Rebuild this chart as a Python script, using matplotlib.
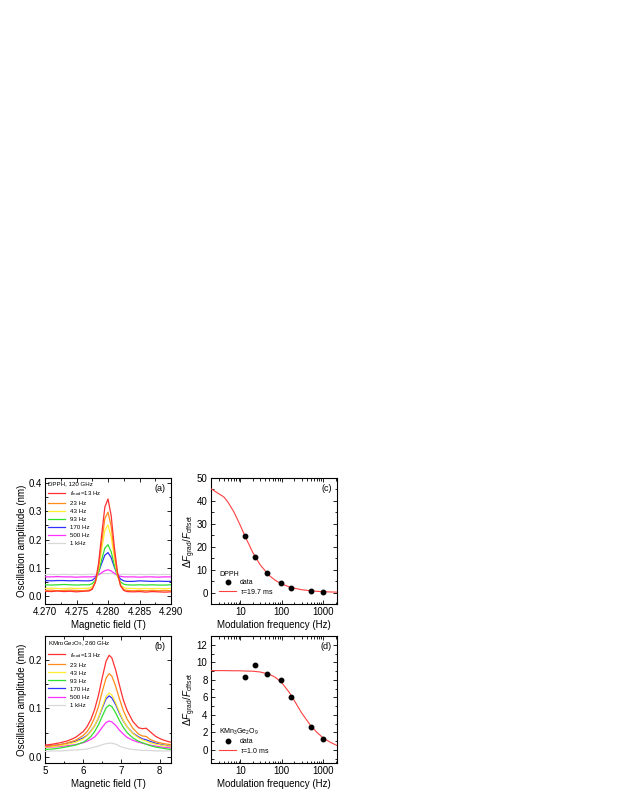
import matplotlib
matplotlib.use("Agg")
import matplotlib.pyplot as plt
from matplotlib.ticker import MultipleLocator, LogLocator, NullFormatter, FixedLocator

plt.rcParams['font.family'] = ['Liberation Sans', 'DejaVu Sans']
plt.rcParams['mathtext.fontset'] = 'custom'
plt.rcParams['mathtext.rm'] = 'Liberation Sans'
plt.rcParams['mathtext.it'] = 'Liberation Sans:italic'
plt.rcParams['axes.linewidth'] = 0.8

# ---------------- data ----------------
labels = [r'$f_{\rm mod}$=13 Hz', '23 Hz', '43 Hz', '93 Hz', '170 Hz', '500 Hz', '1 kHz']
colors = ['#ff3030', '#ff8c1a', '#ffee30', '#30e030', '#3030ff', '#ff30ff', '#d8d8d8']

# panel (a): DPPH, 120 GHz
field_a = [4.2700, 4.2710, 4.2720, 4.2730, 4.2740, 4.2750, 4.2760,
           4.2770, 4.2775, 4.2780, 4.2785, 4.2790, 4.2795, 4.2800, 4.2805,
           4.2810, 4.2815, 4.2820, 4.2825, 4.2830,
           4.2840, 4.2850, 4.2860, 4.2870, 4.2880, 4.2890, 4.2900]
amp_a_13 = [0.017, 0.016, 0.018, 0.016, 0.017, 0.015, 0.017,
            0.018, 0.024, 0.050, 0.115, 0.218, 0.315, 0.344, 0.285,
            0.175, 0.085, 0.036, 0.020, 0.016,
            0.015, 0.016, 0.014, 0.016, 0.015, 0.014, 0.015]
amp_a_23 = [0.020, 0.021, 0.019, 0.020, 0.021, 0.020, 0.019,
            0.021, 0.027, 0.049, 0.103, 0.191, 0.274, 0.297, 0.247,
            0.155, 0.078, 0.037, 0.023, 0.020,
            0.019, 0.020, 0.019, 0.020, 0.019, 0.020, 0.019]
amp_a_43 = [0.027, 0.028, 0.027, 0.026, 0.028, 0.027, 0.027,
            0.028, 0.033, 0.051, 0.095, 0.166, 0.233, 0.252, 0.211,
            0.136, 0.073, 0.041, 0.030, 0.027,
            0.027, 0.026, 0.027, 0.026, 0.027, 0.026, 0.027]
amp_a_93 = [0.040, 0.039, 0.040, 0.041, 0.040, 0.039, 0.040,
            0.040, 0.044, 0.056, 0.084, 0.129, 0.170, 0.182, 0.157,
            0.110, 0.070, 0.050, 0.042, 0.040,
            0.039, 0.040, 0.039, 0.040, 0.039, 0.039, 0.040]
amp_a_170 = [0.055, 0.054, 0.055, 0.055, 0.054, 0.055, 0.054,
             0.054, 0.056, 0.065, 0.085, 0.116, 0.145, 0.154, 0.136,
             0.103, 0.076, 0.060, 0.054, 0.052,
             0.052, 0.054, 0.053, 0.052, 0.053, 0.052, 0.052]
amp_a_500 = [0.068, 0.068, 0.069, 0.068, 0.068, 0.067, 0.068,
             0.068, 0.068, 0.070, 0.075, 0.083, 0.090, 0.093, 0.089,
             0.081, 0.074, 0.070, 0.068, 0.068,
             0.068, 0.067, 0.068, 0.068, 0.067, 0.068, 0.068]
amp_a_1k = [0.076, 0.077, 0.076, 0.077, 0.076, 0.077, 0.076,
            0.077, 0.077, 0.077, 0.078, 0.079, 0.080, 0.080, 0.080,
            0.079, 0.078, 0.077, 0.077, 0.077,
            0.076, 0.077, 0.076, 0.077, 0.076, 0.077, 0.076]

# panel (b): KMn3Ge2O9, 260 GHz
field_b = [5.0, 5.2, 5.4, 5.6, 5.8, 6.0, 6.1, 6.2, 6.3, 6.4, 6.5, 6.6, 6.68,
           6.75, 6.85, 6.95, 7.05, 7.15, 7.3, 7.45, 7.55, 7.65, 7.75, 7.9,
           8.05, 8.2, 8.3]
amp_b_13 = [0.024, 0.026, 0.029, 0.033, 0.040, 0.052, 0.062, 0.077, 0.098, 0.127,
            0.164, 0.198, 0.210, 0.205, 0.180, 0.148, 0.118, 0.096, 0.073, 0.060,
            0.058, 0.059, 0.052, 0.042, 0.036, 0.032, 0.030]
amp_b_23 = [0.021, 0.023, 0.025, 0.029, 0.034, 0.044, 0.052, 0.064, 0.081, 0.104,
            0.135, 0.163, 0.172, 0.167, 0.146, 0.120, 0.096, 0.078, 0.059, 0.047,
            0.043, 0.042, 0.036, 0.031, 0.028, 0.026, 0.025]
amp_b_43 = [0.020, 0.021, 0.023, 0.026, 0.030, 0.037, 0.043, 0.052, 0.064, 0.081,
            0.104, 0.125, 0.132, 0.128, 0.112, 0.093, 0.075, 0.062, 0.048, 0.039,
            0.035, 0.032, 0.029, 0.026, 0.024, 0.022, 0.022]
amp_b_93 = [0.015, 0.016, 0.018, 0.021, 0.024, 0.030, 0.035, 0.042, 0.052, 0.066,
            0.084, 0.101, 0.107, 0.104, 0.091, 0.075, 0.061, 0.050, 0.039, 0.032,
            0.029, 0.026, 0.023, 0.020, 0.018, 0.016, 0.015]
amp_b_170 = [0.022, 0.023, 0.025, 0.028, 0.032, 0.039, 0.044, 0.053, 0.064, 0.080,
             0.101, 0.120, 0.126, 0.122, 0.108, 0.090, 0.074, 0.062, 0.049, 0.041,
             0.037, 0.035, 0.032, 0.028, 0.025, 0.023, 0.022]
amp_b_500 = [0.019, 0.020, 0.021, 0.023, 0.025, 0.029, 0.032, 0.036, 0.041, 0.050,
             0.061, 0.071, 0.074, 0.072, 0.065, 0.055, 0.047, 0.040, 0.034, 0.030,
             0.028, 0.026, 0.024, 0.022, 0.020, 0.019, 0.018]
amp_b_1k = [0.011, 0.012, 0.012, 0.013, 0.014, 0.015, 0.016, 0.018, 0.020, 0.022,
            0.025, 0.027, 0.028, 0.028, 0.026, 0.022, 0.019, 0.017, 0.015, 0.014,
            0.013, 0.013, 0.013, 0.012, 0.012, 0.012, 0.012]

# panels (c), (d): modulation frequency dependence
mod_freq = [13, 23, 43, 93, 170, 500, 1000]
ratio_c = [24.5, 15.5, 8.7, 4.2, 2.1, 0.6, 0.3]
ratio_d = [8.3, 9.65, 8.7, 8.0, 6.0, 2.6, 1.2]
fit_freq = [2, 4, 5, 7, 10, 13, 20, 30, 50, 70, 100, 150, 200, 300, 500,
            700, 1000, 1500, 2200]
fit_c = [45.2, 41.7, 39.5, 35.1, 29.2, 24.5, 17.4, 12.1, 7.4, 5.3, 3.75,
         2.5, 1.88, 1.25, 0.75, 0.54, 0.375, 0.25, 0.17]
fit_d = [9.05, 9.05, 9.04, 9.03, 9.03, 9.0, 8.98, 8.89, 8.63, 8.28, 7.66,
         6.59, 5.63, 4.23, 2.75, 2.01, 1.35, 0.85, 0.48]

amps_a = [amp_a_13, amp_a_23, amp_a_43, amp_a_93, amp_a_170, amp_a_500, amp_a_1k]
amps_b = [amp_b_13, amp_b_23, amp_b_43, amp_b_93, amp_b_170, amp_b_500, amp_b_1k]

# ---------------- figure ----------------
W, H = 623, 806
fig = plt.figure(figsize=(W / 100, H / 100), dpi=100)


def px_axes(left, top, right, bottom):
    return fig.add_axes([left / W, 1 - bottom / H, (right - left) / W, (bottom - top) / H])


ax_a = px_axes(45, 478, 171, 604)
ax_c = px_axes(211, 478, 337, 604)
ax_b = px_axes(45, 636, 171, 763)
ax_d = px_axes(211, 636, 337, 763)

FS = 7
LFS = 4.4
for ax in (ax_a, ax_b, ax_c, ax_d):
    ax.tick_params(which='both', direction='in', top=True, right=True, labelsize=FS,
                   width=0.6, pad=2.5)
    ax.tick_params(which='major', length=3)
    ax.tick_params(which='minor', length=1.8)

leg_kw = dict(frameon=False, fontsize=LFS, title_fontsize=LFS, handlelength=2.8,
              labelspacing=0.45, handletextpad=0.8, borderaxespad=0.3,
              alignment='left', borderpad=0.2)

# (a)
handles = []
for i in range(7):
    h, = ax_a.plot(field_a, amps_a[i], color=colors[i], lw=0.9, label=labels[i],
                   zorder=10 - i)
    handles.append(h)
ax_a.set_xlim(4.270, 4.290)
ax_a.set_ylim(-0.028, 0.418)
ax_a.xaxis.set_major_locator(MultipleLocator(0.005))
ax_a.xaxis.set_minor_locator(MultipleLocator(0.0025))
ax_a.yaxis.set_major_locator(MultipleLocator(0.1))
ax_a.yaxis.set_minor_locator(MultipleLocator(0.05))
ax_a.xaxis.set_major_formatter(plt.FormatStrFormatter('%.3f'))
ax_a.yaxis.set_major_formatter(plt.FormatStrFormatter('%.1f'))
ax_a.set_xlabel('Magnetic field (T)', fontsize=FS, labelpad=1.5)
ax_a.set_ylabel('Oscillation amplitude (nm)', fontsize=FS, labelpad=1)
ax_a.legend(handles=handles, title='DPPH, 120 GHz', loc='upper left', **leg_kw)
ax_a.text(0.96, 0.95, '(a)', transform=ax_a.transAxes, ha='right', va='top', fontsize=6.5)

# (b)
for i in range(7):
    ax_b.plot(field_b, amps_b[i], color=colors[i], lw=0.9, label=labels[i], zorder=10 - i)
ax_b.set_xlim(5, 8.3)
ax_b.set_ylim(-0.013, 0.25)
ax_b.xaxis.set_major_locator(MultipleLocator(1))
ax_b.xaxis.set_minor_locator(MultipleLocator(0.5))
ax_b.yaxis.set_major_locator(MultipleLocator(0.1))
ax_b.yaxis.set_minor_locator(MultipleLocator(0.05))
ax_b.yaxis.set_major_formatter(plt.FormatStrFormatter('%.1f'))
ax_b.set_xlabel('Magnetic field (T)', fontsize=FS, labelpad=1.5)
ax_b.set_ylabel('Oscillation amplitude (nm)', fontsize=FS, labelpad=1)
ax_b.legend(title=r'KMn$_3$Ge$_2$O$_9$, 260 GHz', loc='upper left', **leg_kw)
ax_b.text(0.96, 0.95, '(b)', transform=ax_b.transAxes, ha='right', va='top', fontsize=6.5)

# (c), (d)
ylab = r'$\Delta F_{\rm grad}/F_{\rm offset}$'
for ax, vals, fit, tau, name, ylim, major, minor, tag in (
        (ax_c, ratio_c, fit_c, r'$\tau$=19.7 ms', 'DPPH', (-5, 50), 10, 5, '(c)'),
        (ax_d, ratio_d, fit_d, r'$\tau$=1.0 ms', r'KMn$_3$Ge$_2$O$_9$', (-1.5, 13), 2, 1, '(d)')):
    ax.set_xscale('log')
    ax.plot(mod_freq, vals, 'o', color='black', ms=3.2, label='data', zorder=5)
    ax.plot(fit_freq, fit, '-', color='#ff4040', lw=0.8, label=tau, zorder=4)
    ax.set_xlim(1.95, 2150)
    ax.set_ylim(*ylim)
    ax.xaxis.set_major_locator(FixedLocator([10, 100, 1000]))
    ax.xaxis.set_major_formatter(plt.FuncFormatter(lambda v, p: '%d' % v))
    ax.xaxis.set_minor_locator(LogLocator(base=10, subs=range(2, 10)))
    ax.xaxis.set_minor_formatter(NullFormatter())
    ax.yaxis.set_major_locator(MultipleLocator(major))
    ax.yaxis.set_minor_locator(MultipleLocator(minor))
    ax.set_xlabel('Modulation frequency (Hz)', fontsize=FS, labelpad=1.5)
    ax.set_ylabel(ylab, fontsize=FS, labelpad=-1)
    ax.legend(title=name, loc='lower left', frameon=False, fontsize=5, title_fontsize=5,
              handlelength=2.4, labelspacing=0.1, handletextpad=0.6,
              borderaxespad=1.1, alignment='left', borderpad=0.1)
    ax.text(0.96, 0.95, tag, transform=ax.transAxes, ha='right', va='top', fontsize=6.5)

fig.savefig('out.png', dpi=100)
